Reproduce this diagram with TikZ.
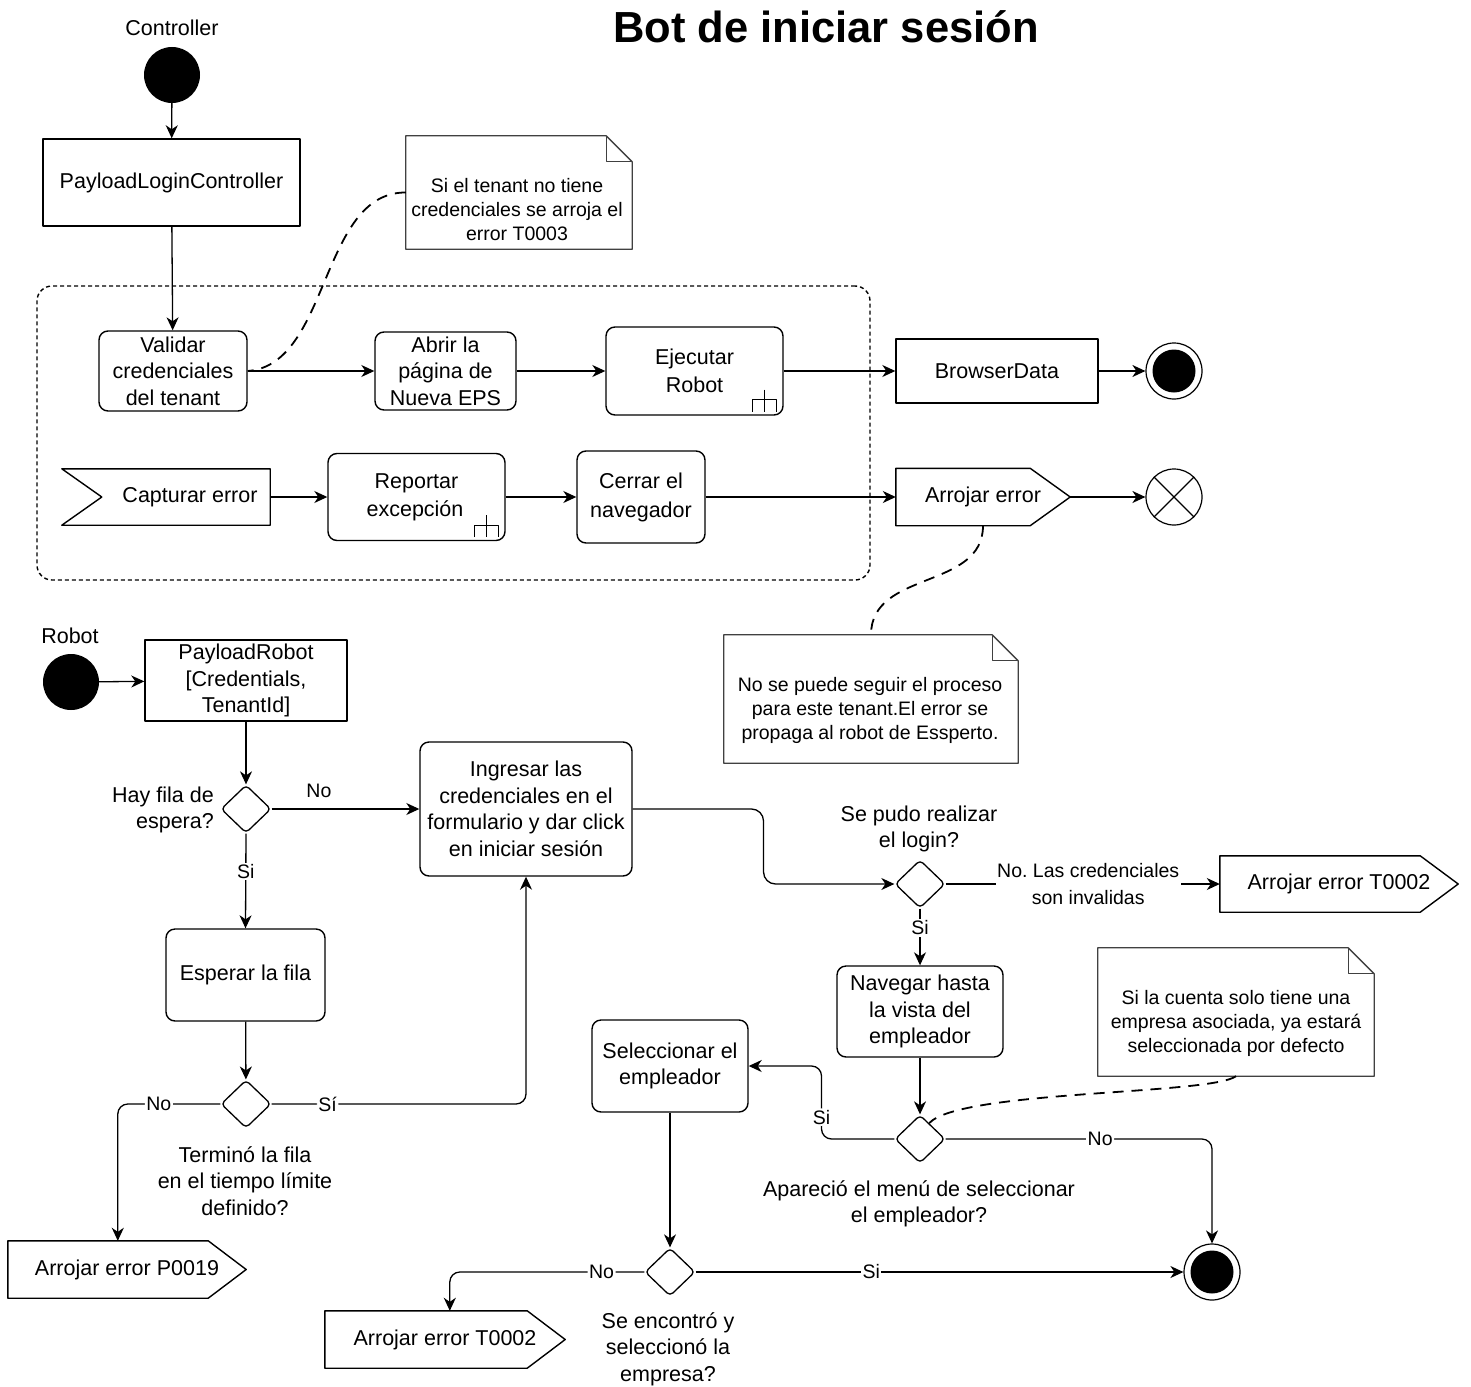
\documentclass[tikz,border=0pt]{standalone}
\usepackage{fontspec}
\setmainfont{Liberation Sans}
\usetikzlibrary{arrows.meta,shapes.geometric,calc}

% small "rake" mark for call-behaviour actions, placed at a node's lower right corner
\newcommand{\rakemark}[1]{%
  \draw[line width=1.2pt] ([shift={(-19,-26)}]#1.south east) -- ++(0,22);
  \draw[line width=1.2pt] ([shift={(-31,-4)}]#1.south east) -- ++(0,-12) -- ++(24,0) -- ++(0,12);
}
% send-signal outline around a node
\newcommand{\sendsig}[2]{%
  \draw[sig] (#1.north west) -- ([xshift=-#2]#1.north east) -- (#1.east)
    -- ([xshift=-#2]#1.south east) -- (#1.south west) -- cycle;
}
% note outline with folded corner around a node
\newcommand{\notebox}[1]{%
  \draw[noteline] (#1.north west) -- ([xshift=-26]#1.north east) -- ([shift={(0,26)}]#1.north east)
    -- (#1.south east) -- (#1.south west) -- cycle;
  \draw[noteline] ([xshift=-26]#1.north east) -- ([shift={(-26,26)}]#1.north east) -- ([shift={(0,26)}]#1.north east);
}

\begin{document}
\begin{tikzpicture}[x=1pt,y=-1pt,line join=round,
  every node/.style={inner sep=0pt, align=center},
  txt/.style={font=\fontsize{21.5}{26.5}\selectfont},
  ntxt/.style={font=\fontsize{19.5}{24}\selectfont},
  lbl/.style={font=\fontsize{19.5}{24}\selectfont, fill=white, inner sep=1.5pt},
  act/.style={txt, draw, line width=1.4pt, rounded corners=9pt},
  obj/.style={txt, draw, line width=1.4pt},
  sig/.style={line width=1.4pt},
  dec/.style={draw, diamond, line width=1.3pt, minimum width=50, minimum height=48, rounded corners=4pt},
  flow/.style={line width=1.3pt, -{Stealth[length=13pt,width=12pt,inset=4pt]}},
  link/.style={line width=1.8pt, dash pattern=on 11pt off 8pt},
  noteline/.style={draw=black!75, line width=1.3pt},
  startdot/.style={circle, fill=black, minimum size=56},
  endring/.style={circle, draw, line width=1.2pt, minimum size=56},
]
\fill[white] (0,0) rectangle (1471,1386);
\useasboundingbox (0,0) rectangle (1471,1386);

% ---------- title ----------
\node[font=\fontsize{43.5}{50}\selectfont\bfseries] (title) at (826,27) {Bot de iniciar sesión};

% ---------- controller flow ----------
\node[txt] (ctl) at (172,28) {Controller};
\node[startdot] (s1) at (172,75) {};
\node[obj, minimum width=257, minimum height=87] (plc) at (171.5,182.5) {PayloadLoginController};

\node[draw, line width=1.4pt, dash pattern=on 4pt off 3pt, rounded corners=15pt,
      minimum width=833, minimum height=294] (grp) at (453.5,433) {};

\node[act, minimum width=148, minimum height=80] (val) at (173,371) {Validar\\credenciales\\del tenant};
\node[act, minimum width=141, minimum height=78] (abr) at (445.5,371) {Abrir la\\página de\\Nueva EPS};
\node[act, minimum width=177, minimum height=88, font=\fontsize{21.5}{28}\selectfont] (eje) at (694.5,371) {Ejecutar\\Robot};
\rakemark{eje}
\node[obj, minimum width=202, minimum height=64] (bd) at (997,371) {BrowserData};
\node[endring] (e1) at (1174,371) {};
\node[circle, fill=black, minimum size=43] (e1c) at (e1) {};

\node[minimum width=208, minimum height=56] (cap) at (166,497) {};
\draw[sig] (cap.north west) -- (cap.north east) -- (cap.south east) -- (cap.south west)
  -- ([xshift=40]cap.west) -- cycle;
\node[txt] (capt) at (190,497) {Capturar error};
\node[act, minimum width=177, minimum height=87, font=\fontsize{21.5}{28}\selectfont] (rep) at (416.5,497) {Reportar\\excepción\hspace*{3pt}};
\rakemark{rep}
\node[act, minimum width=128, minimum height=92, font=\fontsize{21.5}{29}\selectfont] (cer) at (641,497) {Cerrar el\\navegador};
\node[txt, minimum width=174, minimum height=57] (ae) at (983,497) {Arrojar error};
\sendsig{ae}{40}
\node[circle, draw, line width=1.2pt, minimum size=56] (ff) at (1174,497) {};
\draw[line width=1.2pt] (ff.45) -- (ff.225) (ff.135) -- (ff.315);

\draw[flow] (s1) -- (plc);
\draw[flow] (plc) -- (val);
\draw[flow] (val) -- (abr);
\draw[flow] (abr) -- (eje);
\draw[flow] (eje) -- (bd);
\draw[flow] (bd) -- (e1);
\draw[flow] (cap.east) -- (rep);
\draw[flow] (rep) -- (cer);
\draw[flow] (cer) -- (ae);
\draw[flow] (ae.east) -- (ff);

% notes of the controller flow
\node[minimum width=226, minimum height=113] (n1) at (519,192.5) {};
\notebox{n1}
\node[ntxt] (n1t) at (517,210) {Si el tenant no tiene\\credenciales se arroja el\\error T0003};
\draw[link] (n1.west) .. controls (320,192) and (330,365) .. (val.east);

\node[minimum width=294, minimum height=128] (n2) at (871,699) {};
\notebox{n2}
\node[ntxt] (n2t) at (870,710) {No se puede seguir el proceso\\para este tenant.El error se\\propaga al robot de Essperto.};
\draw[link] (ae.south) .. controls (983,590) and (871,570) .. (n2.north);

% ---------- robot flow ----------
\node[txt] (rbl) at (70,636) {Robot};
\node[startdot] (s2) at (71,682) {};
\node[obj, minimum width=202, minimum height=81] (prb) at (246,680.5) {PayloadRobot\\[0pt][Credentials,\\TenantId]};

\node[dec] (d1) at (246,809) {};
\node[txt, anchor=east, align=right] (d1l) at (214,810) {Hay fila de\\espera?};
\node[act, minimum width=212, minimum height=134] (ing) at (526,809) {Ingresar las\\credenciales en el\\formulario y dar click\\en iniciar sesión};
\node[act, minimum width=159, minimum height=92] (esp) at (245.5,975) {Esperar la fila};
\node[dec] (d2) at (246,1104) {};
\node[txt] (d2l) at (245,1181) {Terminó la fila\\en el tiempo límite\\definido?};
\node[txt, minimum width=238, minimum height=57] (p19) at (127,1269.5) {Arrojar error P0019};
\sendsig{p19}{38}

\node[dec] (dlog) at (920,884) {};
\node[txt] (dlogl) at (919,829) {Se pudo realizar\\el login?};
\node[txt, minimum width=238, minimum height=56] (t2a) at (1339,884) {Arrojar error T0002};
\sendsig{t2a}{38}
\node[act, minimum width=166, minimum height=91] (nav) at (920,1011.5) {Navegar hasta\\la vista del\\empleador};
\node[dec] (d3) at (920,1139) {};
\node[txt] (d3l) at (919,1204) {Apareció el menú de seleccionar\\el empleador?};
\node[act, minimum width=156, minimum height=92] (sel) at (670,1066) {Seleccionar el\\empleador};
\node[dec] (d4) at (670,1272) {};
\node[txt] (d4l) at (668,1349) {Se encontró y\\seleccionó la\\empresa?};
\node[txt, minimum width=240, minimum height=57] (t2b) at (445,1339.5) {Arrojar error T0002};
\sendsig{t2b}{38}
\node[endring] (e2) at (1212,1272) {};
\node[circle, fill=black, minimum size=43] (e2c) at (e2) {};

\node[minimum width=276, minimum height=128] (n3) at (1236,1012) {};
\notebox{n3}
\node[ntxt] (n3t) at (1236,1023) {Si la cuenta solo tiene una\\empresa asociada, ya estará\\seleccionada por defecto};
\draw[link] (n3.south) .. controls (1210,1095) and (960,1090) .. (d3.60);

% connectors of the robot flow
\draw[flow] (s2) -- (prb);
\draw[flow] (prb) -- (d1);
\draw[flow] (d1.east) -- node[lbl, fill=none, pos=0.32, above=9pt] {No} (ing.west);
\draw[flow] (d1.south) -- node[lbl, pos=0.4] {Si} (esp.north);
\draw[flow] (esp) -- (d2);
\draw[flow, rounded corners=10pt] (d2.east) -- node[lbl, pos=0.22] {Sí} (ing.south |- d2.east) -- (ing.south);
\draw[flow, rounded corners=10pt] (d2.west) -- node[lbl, pos=0.6] {No} ([xshift=110]p19.north west |- d2.west) -- ([xshift=110]p19.north west);
\draw[flow, rounded corners=12pt] (ing.east) -| ($(ing.east)!0.5!(dlog.west)$) |- (dlog.west);
\draw[flow] (dlog.east) -- node[lbl, pos=0.52, font=\fontsize{19.5}{27}\selectfont] {No.\ Las credenciales\\son invalidas} (t2a.west);
\draw[flow] (dlog.south) -- node[lbl, pos=0.34] {Si} (nav.north);
\draw[flow] (nav) -- (d3);
\draw[flow, rounded corners=10pt] (d3.west) -| node[lbl, pos=0.8] {Si} ($(d3.west)!0.5!(sel.east)$) |- (sel.east);
\draw[flow, rounded corners=10pt] (d3.east) -| node[lbl, pos=0.29] {No} (e2.north);
\draw[flow] (sel) -- (d4);
\draw[flow, rounded corners=10pt] (d4.west) -| node[lbl, pos=0.11] {No} ([xshift=125]t2b.north west);
\draw[flow] (d4.east) -- node[lbl, pos=0.36] {Si} (e2.west);
\end{tikzpicture}
\end{document}
